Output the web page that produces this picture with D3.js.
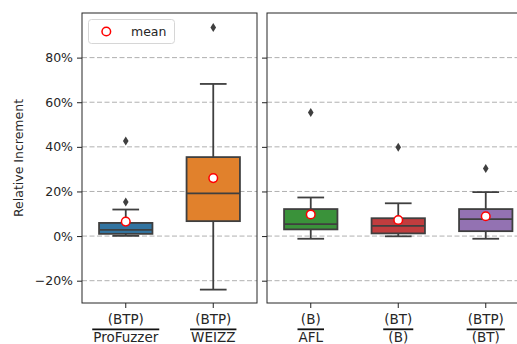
<!DOCTYPE html>
<html>
<head>
<meta charset="UTF-8" />
<script src="https://d3js.org/d3.v7.min.js"></script>
<style>
  body { margin: 0; background: #fff; }
  svg { display: block; font-family: "DejaVu Sans", sans-serif; }
</style>
</head>
<body>
<svg id="chart" width="517" height="344"></svg>
<script>
  // values (percent)
  const numerators   = ["(BTP)", "(BTP)", "(B)", "(BT)", "(BTP)"];
  const denominators = ["ProFuzzer", "WEIZZ", "AFL", "(B)", "(BT)"];
  const panelOf      = [0, 0, 1, 1, 1];
  const colors       = ["#3274a1", "#e1812c", "#3a923a", "#c03d3e", "#9372b2"];
  const whiskerLow   = [0.1, -24.0, -1.2, -0.1, -1.2];
  const q1           = [1.0, 6.7, 3.0, 1.2, 2.2];
  const medians      = [2.8, 19.1, 5.4, 4.6, 7.6];
  const q3           = [5.9, 35.4, 12.1, 8.0, 12.1];
  const whiskerHigh  = [11.9, 68.2, 17.3, 14.7, 19.7];
  const means        = [6.5, 26.0, 9.7, 7.2, 8.9];
  const outliers     = [[15.3, 42.6], [93.5], [55.4], [39.8], [30.3]];
  const yTicks       = [-20, 0, 20, 40, 60, 80];

  const svg = d3.select("#chart");
  const plotTop = 13, plotBottom = 303;
  const y = d3.scaleLinear().domain([-30, 100]).range([plotBottom, plotTop]);

  const panels = [
    { x0: 82, n: 2 },
    { x0: 267, n: 3 }
  ];
  const unit = 87.5;
  panels.forEach(p => {
    p.x = d3.scaleLinear().domain([-0.5, p.n - 0.5]).range([p.x0, p.x0 + unit * p.n]);
  });

  const gray = "#3f3f3f";
  const boxW = 0.61 * unit;

  panels.forEach((p, pi) => {
    const g = svg.append("g");
    const [xa, xb] = p.x.range();

    // grid
    g.selectAll("line.grid").data(yTicks).enter().append("line")
      .attr("x1", xa).attr("x2", xb)
      .attr("y1", d => y(d)).attr("y2", d => y(d))
      .attr("stroke", "#b0b0b0").attr("stroke-width", 1)
      .attr("stroke-dasharray", "5,2.5");

    // y axis
    const yAxis = d3.axisLeft(y).tickValues(yTicks).tickSize(5).tickPadding(4)
      .tickFormat(d => pi === 0 ? (d < 0 ? "\u2212" + Math.abs(d) : d) + "%" : "");
    const ya = g.append("g").attr("transform", `translate(${xa},0)`).call(yAxis);
    ya.select(".domain").remove();
    ya.selectAll("line").attr("stroke", "#222").attr("stroke-width", 1);
    ya.selectAll("text").attr("font-size", "12.5px").attr("fill", "#262626")
      .attr("font-family", "DejaVu Sans");

    // x ticks
    const idx = d3.range(p.n);
    g.selectAll("line.xt").data(idx).enter().append("line")
      .attr("x1", d => p.x(d)).attr("x2", d => p.x(d))
      .attr("y1", plotBottom).attr("y2", plotBottom + 5)
      .attr("stroke", "#222");

    // boxes
    const items = d3.range(numerators.length).filter(i => panelOf[i] === pi);
    items.forEach((i, k) => {
      const cx = p.x(k);
      const bg = g.append("g");
      bg.append("line").attr("x1", cx).attr("x2", cx)
        .attr("y1", y(whiskerHigh[i])).attr("y2", y(q3[i]))
        .attr("stroke", gray).attr("stroke-width", 1.8);
      bg.append("line").attr("x1", cx).attr("x2", cx)
        .attr("y1", y(q1[i])).attr("y2", y(whiskerLow[i]))
        .attr("stroke", gray).attr("stroke-width", 1.8);
      [whiskerHigh[i], whiskerLow[i]].forEach(v => {
        bg.append("line").attr("x1", cx - boxW / 4).attr("x2", cx + boxW / 4)
          .attr("y1", y(v)).attr("y2", y(v))
          .attr("stroke", gray).attr("stroke-width", 1.8);
      });
      bg.append("rect")
        .attr("x", cx - boxW / 2).attr("width", boxW)
        .attr("y", y(q3[i])).attr("height", y(q1[i]) - y(q3[i]))
        .attr("fill", colors[i]).attr("stroke", gray).attr("stroke-width", 1.8);
      bg.append("line").attr("x1", cx - boxW / 2).attr("x2", cx + boxW / 2)
        .attr("y1", y(medians[i])).attr("y2", y(medians[i]))
        .attr("stroke", gray).attr("stroke-width", 1.8);
      outliers[i].forEach(v => {
        bg.append("path")
          .attr("d", "M0,-4.5L2.8,0L0,4.5L-2.8,0Z")
          .attr("transform", `translate(${cx},${y(v)})`)
          .attr("fill", gray);
      });
      bg.append("circle").attr("cx", cx).attr("cy", y(means[i])).attr("r", 4.3)
        .attr("fill", "#fff").attr("stroke", "red").attr("stroke-width", 1.5);

      // fraction label
      const lab = g.append("g").attr("transform", `translate(${cx},0)`);
      const tn = lab.append("text").attr("y", 324).attr("text-anchor", "middle")
        .attr("font-size", "13.5px").attr("fill", "#262626").text(numerators[i]);
      const td = lab.append("text").attr("y", 341.5).attr("text-anchor", "middle")
        .attr("font-size", "13.5px").attr("fill", "#262626").text(denominators[i]);
      const w = Math.max(tn.node().getComputedTextLength(), td.node().getComputedTextLength()) + 2;
      lab.append("line").attr("x1", -w / 2).attr("x2", w / 2)
        .attr("y1", 329.3).attr("y2", 329.3)
        .attr("stroke", "#111").attr("stroke-width", 1.8);
    });

    // frame
    g.append("rect").attr("x", xa).attr("y", plotTop)
      .attr("width", xb - xa).attr("height", plotBottom - plotTop)
      .attr("fill", "none").attr("stroke", "#262626").attr("stroke-width", 1);
  });

  // y label
  svg.append("text")
    .attr("transform", `translate(23,${(plotTop + plotBottom) / 2}) rotate(-90)`)
    .attr("text-anchor", "middle").attr("font-size", "12.5px").attr("fill", "#262626")
    .text("Relative Increment");

  // legend
  const lg = svg.append("g");
  lg.append("rect").attr("x", 88.5).attr("y", 19.5).attr("width", 86).attr("height", 24)
    .attr("rx", 3).attr("fill", "#fff").attr("stroke", "#d6d6d6").attr("stroke-width", 1);
  lg.append("circle").attr("cx", 106.3).attr("cy", 31.5).attr("r", 4.3)
    .attr("fill", "#fff").attr("stroke", "red").attr("stroke-width", 1.5);
  lg.append("text").attr("x", 131).attr("y", 36).attr("font-size", "12.5px")
    .attr("fill", "#262626").text("mean");
</script>
</body>
</html>
